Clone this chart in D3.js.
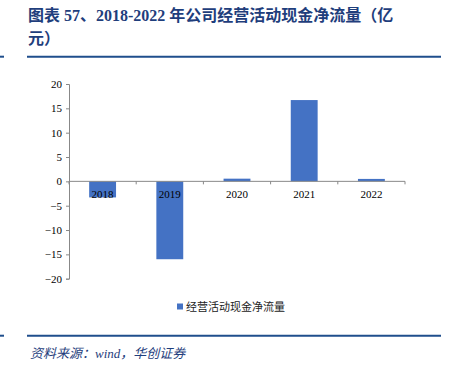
<!DOCTYPE html>
<html><head><meta charset="utf-8">
<script src="https://cdn.jsdelivr.net/npm/d3@7"></script>
<style>body{margin:0;background:#fff}</style>
</head><body>
<svg id="c" width="451" height="367"></svg>
<script>
const categories = ["2018","2019","2020","2021","2022"];
const values = [-3.3, -16.0, 0.55, 16.7, 0.5];
const yTicks = [20,15,10,5,0,-5,-10,-15,-20];
const seriesName = "经营活动现金净流量";
const titleLines = ["图表 57、2018-2022 年公司经营活动现金净流量（亿", "元）"];
const sourceText = "资料来源：wind，华创证券";

const svg = d3.select("#c");
const blue = "#1F3E7C";
const serif = "'Liberation Serif','Times New Roman',serif";
const cjk = "'Noto Sans CJK SC',sans-serif";

// Title
svg.append("g").selectAll("text").data(titleLines).join("text")
  .attr("x", 28).attr("y", (d,i)=>21 + i*23)
  .attr("fill", blue).attr("font-size", 16).attr("font-weight", "bold")
  .attr("font-family", "'Liberation Serif','Noto Sans CJK SC',serif")
  .text(d=>d);

// rules
[[0,4,56.7],[27,441,56.7],[0,4,335.7],[27,441,335.7]].forEach(([x1,x2,y])=>{
  svg.append("line").attr("x1",x1).attr("x2",x2).attr("y1",y).attr("y2",y)
    .attr("stroke","#1F4E8C").attr("stroke-width",2);
});

const x = d3.scaleBand().domain(categories).range([69,405]).paddingInner(0.6).paddingOuter(0.3);
const y = d3.scaleLinear().domain([-20,20]).range([278.7,84]);

// Bars
svg.append("g").selectAll("rect").data(values).join("rect")
  .attr("x",(d,i)=>x(categories[i]))
  .attr("width", x.bandwidth())
  .attr("y", d=>y(Math.max(0,d)))
  .attr("height", d=>Math.abs(y(d)-y(0)))
  .attr("fill","#4472C4");

// Y axis
const ya = svg.append("g").attr("transform","translate(69,0)")
  .call(d3.axisLeft(y).tickValues(yTicks).tickSize(3).tickPadding(4).tickFormat(d3.format("d")));
ya.selectAll("path,line").attr("stroke","#888");
ya.selectAll("text").attr("font-family",serif).attr("font-size",11).attr("fill","#000");

// X axis at zero with boundary ticks
const xa = svg.append("g").attr("transform",`translate(0,${y(0)})`);
xa.append("line").attr("x1",69).attr("x2",405).attr("stroke","#888");
const step = (405-69)/categories.length;
xa.selectAll(".tk").data(d3.range(categories.length+1)).join("line")
  .attr("x1",i=>69+i*step).attr("x2",i=>69+i*step).attr("y1",0).attr("y2",3).attr("stroke","#888");
xa.selectAll(".lb").data(categories).join("text")
  .attr("x",d=>x(d)+x.bandwidth()/2).attr("y",17)
  .attr("text-anchor","middle").attr("font-family",serif).attr("font-size",11).attr("fill","#000")
  .text(d=>d);

// Legend
svg.append("rect").attr("x",177).attr("y",303.5).attr("width",6).attr("height",6).attr("fill","#4472C4");
svg.append("text").attr("x",186).attr("y",311).attr("font-family",cjk).attr("font-size",11).attr("fill","#222").text(seriesName);

// Source
svg.append("text").attr("x",30).attr("y",358).attr("font-family","'Liberation Serif','Noto Sans CJK SC',serif")
  .attr("font-style","italic").attr("font-size",13).attr("fill",blue).text(sourceText);
</script>
</body></html>
